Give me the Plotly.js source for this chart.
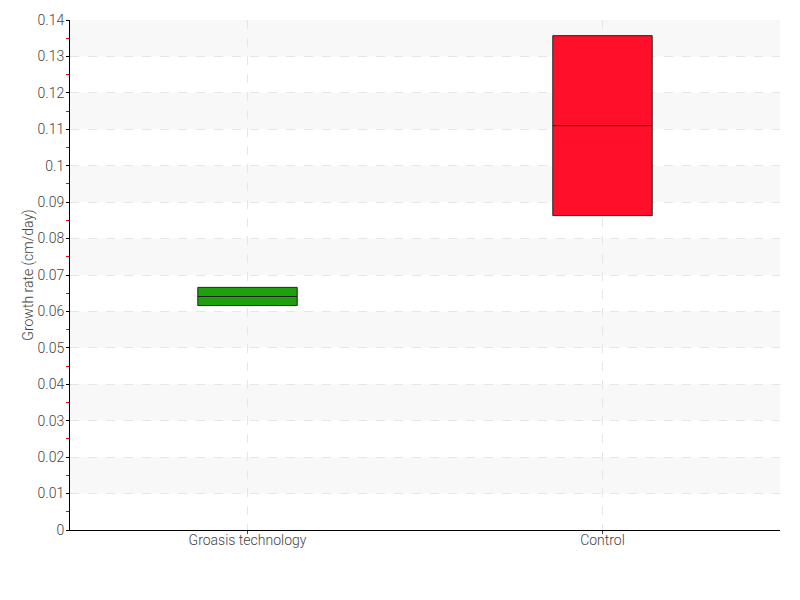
<!DOCTYPE html>
<html>
<head>
<meta charset="utf-8">
<script src="https://cdn.plot.ly/plotly-3.0.1.min.js"></script>
<style>html,body{margin:0;padding:0;background:#fff;}#chart{width:800px;height:600px;}</style>
</head>
<body>
<div id="chart"></div>
<script>
const categories = ['Groasis technology', 'Control'];
const q1Values = [0.0616, 0.0863];
const medianValues = [0.0641, 0.1110];
const q3Values = [0.0666, 0.1357];
const boxColors = ['#1fa00f', '#ff0f2a'];
const bandStarts = [0.01, 0.03, 0.05, 0.07, 0.09, 0.11, 0.13];
const bandSize = 0.01;

const traces = categories.map((c, i) => ({
  type: 'box',
  name: c,
  x: [c],
  q1: [q1Values[i]],
  median: [medianValues[i]],
  q3: [q3Values[i]],
  lowerfence: [q1Values[i]],
  upperfence: [q3Values[i]],
  fillcolor: boxColors[i],
  line: {color: '#222', width: 1},
  width: 0.28,
  whiskerwidth: 0,
  hoverinfo: 'y'
}));

const shapes = bandStarts.map(s => ({
  type: 'rect', xref: 'paper', yref: 'y', x0: 0, x1: 1, y0: s, y1: s + bandSize,
  fillcolor: '#f8f8f8', line: {width: 0}, layer: 'below'
}));

const font = "Roboto, sans-serif";
const layout = {
  width: 800, height: 600,
  margin: {l: 70, r: 20, t: 20, b: 70},
  paper_bgcolor: '#fff', plot_bgcolor: '#fff',
  showlegend: false,
  boxmode: 'overlay',
  font: {family: font, size: 14, color: '#444', weight: 300},
  shapes: shapes,
  xaxis: {
    type: 'category', range: [-0.5, 1.5],
    showline: true, linecolor: '#000', linewidth: 1,
    ticks: 'outside', ticklen: 3, tickcolor: '#444',
    ticklabelstandoff: -6,
    showgrid: true, gridcolor: '#e6e6e6', griddash: 'dash', gridwidth: 1,
    zeroline: false,
    tickfont: {family: font, size: 14, color: '#444', weight: 300}
  },
  yaxis: {
    range: [0, 0.14], dtick: 0.01, tick0: 0,
    showline: true, linecolor: '#000', linewidth: 1,
    ticks: 'outside', ticklen: 3, tickcolor: '#000',
    ticklabelstandoff: -1,
    showgrid: true, gridcolor: '#e6e6e6', griddash: 'dash', gridwidth: 1,
    zeroline: false,
    tickfont: {family: font, size: 14, color: '#444', weight: 300},
    minor: {dtick: 0.005, tick0: 0, ticks: 'outside', ticklen: 3, tickcolor: '#ff0000', showgrid: false},
    title: {text: 'Growth rate (cm/day)', font: {family: font, size: 14, color: '#444', weight: 300}, standoff: 0}
  }
};

Plotly.newPlot('chart', traces, layout, {displayModeBar: false});
</script>
</body>
</html>
